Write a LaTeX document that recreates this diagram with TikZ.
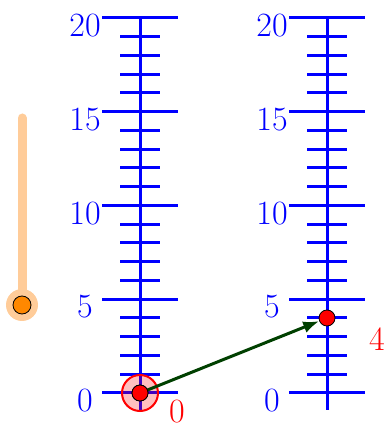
\documentclass[tikz,border=0pt]{standalone}
\usepackage{tikz}
\usetikzlibrary{arrows.meta}
\definecolor{sliderorange}{RGB}{255,204,153}
\definecolor{ptorange}{RGB}{255,136,0}
\definecolor{vecgreen}{RGB}{0,64,0}
\begin{document}
\begin{tikzpicture}[x=1pt,y=1pt,
  axis/.style={blue,line width=3pt},
  numlabel/.style={blue,anchor=north,inner sep=0pt,font=\fontsize{34}{36}\selectfont},
  vallabel/.style={red,inner sep=0pt,font=\fontsize{34}{36}\selectfont},
  ptred/.style={circle,fill=red,draw=black,line width=0.8pt,minimum size=16pt,inner sep=0pt},
  halo/.style={circle,fill=red,fill opacity=0.25,draw=red,draw opacity=1,line width=2pt,minimum size=36pt,inner sep=0pt},
  vec/.style={vecgreen,line width=3pt,-{Latex[length=16pt,width=12pt]}}]
  \useasboundingbox (0,0) rectangle (385,425);
  % the two number lines
  \foreach \ax in {140,327} {
    \draw[axis] (\ax,15) -- (\ax,32+20*18.75);
    \foreach \v in {0,...,20} {\draw[axis] (\ax-20,32+\v*18.75) -- (\ax+20,32+\v*18.75);}
    \foreach \v in {0,5,...,20} {
      \draw[axis] (\ax-38,32+\v*18.75) -- (\ax+38,32+\v*18.75);
      \node[numlabel] (lab\ax-\v) at (\ax-55,36+\v*18.75) {\v};
    }}
  % slider
  \coordinate (stop) at (22,307);
  \draw[sliderorange,line width=9pt,line cap=round] (22,120) -- (stop);
  \node[circle,fill=sliderorange,minimum size=32pt,inner sep=0pt] (shalo) at (22,120) {};
  \node[circle,fill=ptorange,draw=black,line width=0.8pt,minimum size=18pt,inner sep=0pt] (s) at (22,120) {};
  % points and vector
  \node[halo] (h0) at (140,32) {};
  \node[ptred] (p0) at (140,32) {};
  \node[ptred] (p4) at (327,32+4*18.75) {};
  \draw[vec] (p0.center) -- (p4);
  \node[ptred] at (p0) {};
  \node[vallabel] (v0) at (177,13) {0};
  \node[vallabel] (v4) at (377,86) {4};
\end{tikzpicture}
\end{document}
